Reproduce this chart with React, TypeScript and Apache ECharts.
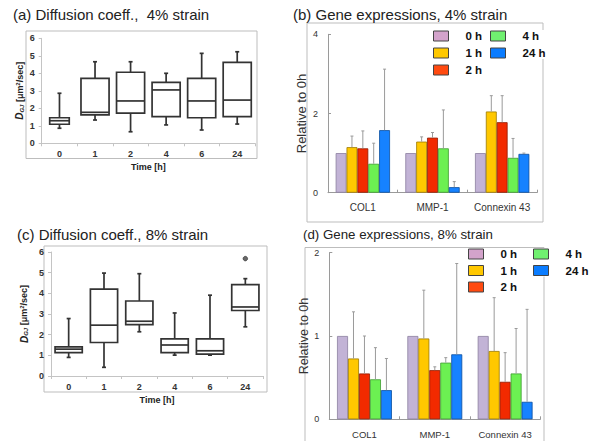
import { useEffect, useRef } from 'react';
import * as echarts from 'echarts';

const FONT = '"Liberation Sans", Arial, sans-serif';

// Box plots: [min, Q1, median, Q3, max]
const timeLabels = ['0', '1', '2', '4', '6', '24'];
const box4pct = [
  [0.86, 1.09, 1.29, 1.46, 2.86],
  [1.33, 1.62, 1.77, 3.71, 4.66],
  [0.66, 1.73, 2.42, 4.06, 4.66],
  [1.05, 1.52, 3.05, 3.48, 4.0],
  [0.76, 1.46, 2.42, 3.71, 5.14],
  [1.1, 1.52, 2.47, 4.63, 5.23],
];
const box8pct = [
  [0.9, 1.13, 1.3, 1.41, 2.78],
  [0.42, 1.62, 2.46, 4.2, 4.98],
  [2.14, 2.49, 2.65, 3.63, 4.95],
  [1.01, 1.13, 1.5, 1.8, 3.05],
  [1.01, 1.06, 1.22, 1.8, 3.91],
  [2.38, 3.17, 3.34, 4.42, 4.71],
];
const outliers8pct = [[5, 5.68]];

// Gene expressions (relative to 0h), rows = hours
const genes = ['COL1', 'MMP-1', 'Connexin 43'];
const hours = ['0 h', '1 h', '2 h', '4 h', '24 h'];
const expr4pct = [
  [1, 1, 1],
  [1.15, 1.29, 2.05],
  [1.12, 1.39, 1.78],
  [0.73, 1.12, 0.88],
  [1.58, 0.14, 0.98],
];
const sd4pct = [
  [null, null, null],
  [0.28, 0.12, 0.4],
  [0.44, 0.13, 0.67],
  [0.52, 0.97, 0.49],
  [1.54, 0.14, 0.02],
];
const expr8pct = [
  [1, 1, 1],
  [0.73, 0.97, 0.82],
  [0.55, 0.59, 0.45],
  [0.48, 0.68, 0.55],
  [0.35, 0.78, 0.21],
];
const sd8pct = [
  [null, null, null],
  [0.56, 0.58, 0.64],
  [0.45, 0.04, 0.35],
  [0.38, 0.06, 0.54],
  [0.38, 1.09, 1.11],
];

// styles
const barColors = ['#C2B3D6', '#FFC800', '#F22A00', '#6CF052', '#1682FF'];
const barBorders = ['#8C7FA0', '#9C7A00', '#8E1A00', '#3E9A30', '#0A4E9E'];
const legendColors = ['#D3A3CB', '#FFC800', '#FF4A10', '#70F070', '#0A7CFF'];
const boxWidth4 = [0.55, 0.79, 0.79, 0.79, 0.79, 0.79];
const boxWidth8 = [0.77, 0.77, 0.77, 0.77, 0.77, 0.77];
const CAT_GAP = 0.22;

function makeBoxRender(widths: number[]) {
  return (params: any, api: any) => {
    const i = api.value(0);
    const lo = api.coord([i, api.value(1)]);
    const q1 = api.coord([i, api.value(2)]);
    const md = api.coord([i, api.value(3)]);
    const q3 = api.coord([i, api.value(4)]);
    const hi = api.coord([i, api.value(5)]);
    const band = api.size([1, 0])[0];
    const w = band * widths[i];
    const x = lo[0];
    const cap = 2;
    const st = { stroke: '#333', lineWidth: 1.7, fill: 'none' };
    return {
      type: 'group',
      children: [
        { type: 'line', shape: { x1: x, y1: hi[1], x2: x, y2: q3[1] }, style: st },
        { type: 'line', shape: { x1: x, y1: q1[1], x2: x, y2: lo[1] }, style: st },
        { type: 'line', shape: { x1: x - cap, y1: hi[1], x2: x + cap, y2: hi[1] }, style: st },
        { type: 'line', shape: { x1: x - cap, y1: lo[1], x2: x + cap, y2: lo[1] }, style: st },
        { type: 'rect', shape: { x: x - w / 2, y: q3[1], width: w, height: q1[1] - q3[1] }, style: { ...st, fill: '#fff' } },
        { type: 'line', shape: { x1: x - w / 2, y1: md[1], x2: x + w / 2, y2: md[1] }, style: st },
      ],
    };
  };
}

function errRender(params: any, api: any) {
  const ci = api.value(0);
  const k = api.value(3);
  const band = api.size([1, 0])[0];
  const bw = (band * (1 - CAT_GAP)) / hours.length;
  const base = api.coord([ci, api.value(1)]);
  const top = api.coord([ci, api.value(1) + api.value(2)]);
  const x = base[0] - (hours.length / 2) * bw + (k + 0.5) * bw;
  const st = { stroke: '#9a9a9a', lineWidth: 1 };
  return {
    type: 'group',
    children: [
      { type: 'line', shape: { x1: x, y1: base[1], x2: x, y2: top[1] }, style: st },
      { type: 'line', shape: { x1: x - 1.5, y1: top[1], x2: x + 1.5, y2: top[1] }, style: st },
    ],
  };
}

function errData(expr: number[][], sd: (number | null)[][]) {
  const out: any[] = [];
  expr.forEach((row, k) =>
    row.forEach((v, ci) => {
      const s = sd[k][ci];
      if (s != null) out.push([ci, v, s, k]);
    })
  );
  return out;
}

const dName = '{i|D}{sub|GJ}{n| [μm}{sup|2}{n|/sec]}';
const dRich = {
  i: { fontStyle: 'italic', fontWeight: 'bold', fontSize: 10, color: '#222', fontFamily: FONT },
  sub: { fontStyle: 'italic', fontWeight: 'bold', fontSize: 6, color: '#222', verticalAlign: 'bottom', fontFamily: FONT },
  sup: { fontWeight: 'bold', fontSize: 6, color: '#222', verticalAlign: 'top', fontFamily: FONT },
  n: { fontWeight: 'bold', fontSize: 9, color: '#222', fontFamily: FONT },
};

function boxAxes(gi: number, nameGapY: number) {
  const x = {
    type: 'category',
    gridIndex: gi,
    data: timeLabels,
    name: 'Time [h]',
    nameLocation: 'middle',
    nameGap: 19,
    nameTextStyle: { fontWeight: 'bold', fontSize: 9, color: '#222', fontFamily: FONT },
    axisLine: { lineStyle: { color: '#c4c4c4' } },
    axisTick: { show: true, length: 3, lineStyle: { color: '#c4c4c4' } },
    axisLabel: { fontWeight: 'bold', fontSize: 9, color: '#333', margin: 6, interval: 0, fontFamily: FONT },
  };
  const y = {
    type: 'value',
    gridIndex: gi,
    min: 0,
    max: 6,
    interval: 1,
    name: dName,
    nameLocation: 'middle',
    nameGap: nameGapY,
    nameTextStyle: { rich: dRich },
    axisLine: { show: true, lineStyle: { color: '#c4c4c4' } },
    axisTick: { show: true, length: 3, lineStyle: { color: '#c4c4c4' } },
    splitLine: { show: false },
    axisLabel: { fontWeight: 'bold', fontSize: 9, color: '#333', margin: 7, fontFamily: FONT },
  };
  return { x, y };
}

function barAxes(gi: number, max: number, interval: number, nameGap: number, nameSize: number, catSize: number) {
  const x = {
    type: 'category',
    gridIndex: gi,
    data: genes,
    axisLine: { lineStyle: { color: '#9a9a9a' } },
    axisTick: { show: true, inside: true, length: 3, lineStyle: { color: '#9a9a9a' } },
    axisLabel: { fontSize: catSize, color: '#333', margin: 10, interval: 0, fontFamily: FONT },
  };
  const y = {
    type: 'value',
    gridIndex: gi,
    min: 0,
    max,
    interval,
    name: 'Relative to 0h',
    nameLocation: 'middle',
    nameGap,
    nameTextStyle: { fontSize: nameSize, color: '#333', fontFamily: FONT },
    axisLine: { show: true, lineStyle: { color: '#9a9a9a' } },
    axisTick: { show: true, inside: true, length: 3, lineStyle: { color: '#9a9a9a' } },
    splitLine: { show: false },
    axisLabel: { fontSize: 9, color: '#333', margin: 10, fontFamily: FONT },
  };
  return { x, y };
}

function legendItems(idx: number[]) {
  return idx.map((k) => ({
    name: hours[k],
    itemStyle: { color: legendColors[k], borderColor: '#444', borderWidth: 1 },
  }));
}

function legend(left: number, top: number, idx: number[], gap: number) {
  return {
    left,
    top,
    orient: 'vertical',
    icon: 'rect',
    itemWidth: 15,
    itemHeight: 10,
    itemGap: gap,
    padding: 0,
    backgroundColor: '#fff',
    selectedMode: false,
    data: legendItems(idx),
    textStyle: { fontSize: 11.5, fontWeight: 'bold', color: '#111', padding: [0, 0, 0, 12], fontFamily: FONT },
  };
}

export default function App() {
  const ref = useRef<HTMLDivElement>(null);
  useEffect(() => {
    if (!ref.current) return;
    const chart = echarts.init(ref.current, undefined, { renderer: 'svg' });
    const a = boxAxes(0, 17);
    const c = boxAxes(2, 22);
    const b = barAxes(1, 4, 2, 20, 13, 10);
    const d = barAxes(3, 2, 1, 15, 12.5, 9.5);

    const series: any[] = [];
    series.push({
      type: 'custom',
      xAxisIndex: 0,
      yAxisIndex: 0,
      renderItem: makeBoxRender(boxWidth4),
      encode: { x: 0, y: [1, 2, 3, 4, 5] },
      data: box4pct.map((v, i) => [i, ...v]),
    });
    series.push({
      type: 'custom',
      xAxisIndex: 2,
      yAxisIndex: 2,
      renderItem: makeBoxRender(boxWidth8),
      encode: { x: 0, y: [1, 2, 3, 4, 5] },
      data: box8pct.map((v, i) => [i, ...v]),
    });
    series.push({
      type: 'scatter',
      xAxisIndex: 2,
      yAxisIndex: 2,
      symbol: 'circle',
      symbolSize: 4.5,
      itemStyle: { color: '#444', borderColor: '#222', borderWidth: 0.8 },
      data: outliers8pct,
    });
    [
      { gi: 1, expr: expr4pct, sd: sd4pct },
      { gi: 3, expr: expr8pct, sd: sd8pct },
    ].forEach(({ gi, expr, sd }) => {
      expr.forEach((row, k) => {
        series.push({
          type: 'bar',
          name: hours[k],
          xAxisIndex: gi,
          yAxisIndex: gi,
          data: row,
          barGap: '0%',
          barCategoryGap: `${CAT_GAP * 100}%`,
          itemStyle: { color: barColors[k], borderColor: barBorders[k], borderWidth: 0.8 },
        });
      });
      series.push({
        type: 'custom',
        xAxisIndex: gi,
        yAxisIndex: gi,
        renderItem: errRender,
        encode: { x: 0, y: [1, 2] },
        data: errData(expr, sd),
        z: 3,
      });
    });

    const titleStyle = (size: number) => ({ fontSize: size, fontWeight: 'normal', color: '#222', fontFamily: FONT });
    const frame = (x: number, y: number, w: number, h: number) => ({
      type: 'rect',
      shape: { x, y, width: w, height: h },
      style: { fill: 'none', stroke: '#bdbdbd', lineWidth: 1 },
      silent: true,
    });

    chart.setOption({
      animation: false,
      backgroundColor: '#fff',
      textStyle: { fontFamily: FONT },
      title: [
        { text: '(a) Diffusion coeff.,  4% strain', left: 13, top: 7, padding: 0, textStyle: titleStyle(15) },
        { text: '(b) Gene expressions, 4% strain', left: 293, top: 7, padding: 0, textStyle: titleStyle(15) },
        { text: '(c) Diffusion coeff., 8% strain', left: 17, top: 227, padding: 0, textStyle: titleStyle(15) },
        { text: '(d) Gene expressions, 8% strain', left: 303, top: 228, padding: 0, textStyle: titleStyle(13.3) },
      ],
      graphic: [
        frame(26, 31, 231, 127.5),
        frame(307, 23, 236, 199),
        frame(44, 246, 223, 146),
        frame(305, 247.5, 239, 200),
      ],
      legend: [
        legend(433, 30, [0, 1, 2], 5),
        legend(490, 30, [3, 4], 5),
        legend(468, 248, [0, 1, 2], 4.5),
        legend(533, 248, [3, 4], 4.5),
      ],
      grid: [
        { left: 41.7, top: 38.3, width: 213.3, height: 105 },
        { left: 328, top: 34.3, width: 209, height: 158.4 },
        { left: 51, top: 252, width: 212, height: 124 },
        { left: 329.3, top: 252.7, width: 211, height: 166.6 },
      ],
      xAxis: [a.x, b.x, c.x, d.x],
      yAxis: [a.y, b.y, c.y, d.y],
      series,
    });
    return () => chart.dispose();
  }, []);
  return (
    <div
      ref={ref}
      style={{ position: 'fixed', left: 0, top: 0, width: 595, height: 441, background: '#fff' }}
    />
  );
}
